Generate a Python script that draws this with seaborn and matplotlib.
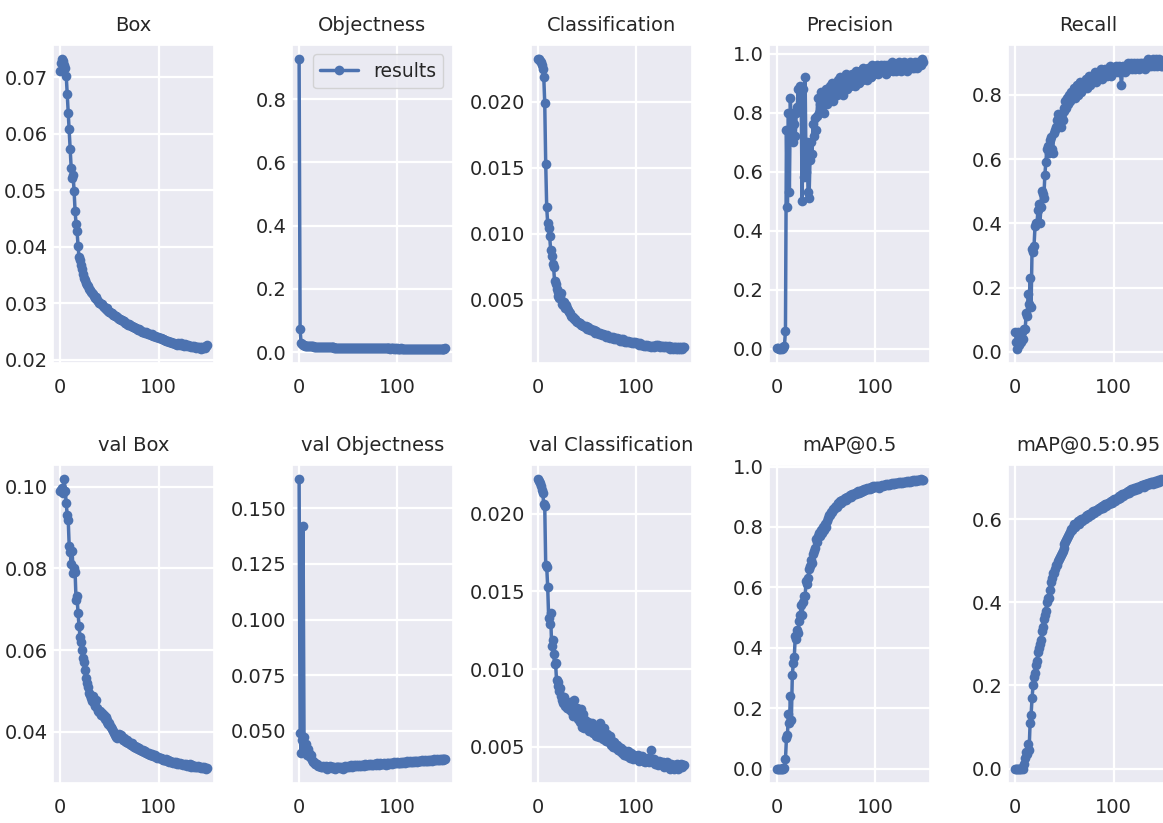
import matplotlib
matplotlib.use("Agg")
import matplotlib.pyplot as plt
from matplotlib.ticker import MultipleLocator
import seaborn as sns
import numpy as np

# epochs 0..149
epochs = list(range(150))

box = [
    0.0710, 0.0725, 0.0731, 0.0728, 0.0722, 0.0716, 0.0702, 0.0670, 0.0636, 0.0608,
    0.0572, 0.0540, 0.0522, 0.0526, 0.0498, 0.0463, 0.0440, 0.0428, 0.0402, 0.0381,
    0.0376, 0.0368, 0.0360, 0.0352, 0.0345, 0.0341, 0.0336, 0.0333, 0.0330, 0.0326,
    0.0324, 0.0320, 0.0318, 0.0316, 0.0312, 0.0309, 0.0311, 0.0306, 0.0304, 0.0301,
    0.0300, 0.0298, 0.0299, 0.0295, 0.0293, 0.0292, 0.0290, 0.0291, 0.0288, 0.0286,
    0.0285, 0.0284, 0.0282, 0.0283, 0.0280, 0.0279, 0.0277, 0.0278, 0.0276, 0.0274,
    0.0273, 0.0272, 0.0271, 0.0270, 0.0268, 0.0268, 0.0266, 0.0265, 0.0264, 0.0262,
    0.0263, 0.0261, 0.0260, 0.0259, 0.0258, 0.0258, 0.0256, 0.0257, 0.0255, 0.0253,
    0.0254, 0.0252, 0.0251, 0.0250, 0.0250, 0.0249, 0.0248, 0.0249, 0.0247, 0.0246,
    0.0246, 0.0245, 0.0244, 0.0245, 0.0243, 0.0242, 0.0243, 0.0241, 0.0240, 0.0240,
    0.0239, 0.0238, 0.0239, 0.0237, 0.0236, 0.0236, 0.0235, 0.0235, 0.0234, 0.0233,
    0.0233, 0.0232, 0.0232, 0.0231, 0.0230, 0.0229, 0.0230, 0.0228, 0.0228, 0.0227,
    0.0229, 0.0228, 0.0227, 0.0229, 0.0226, 0.0227, 0.0225, 0.0228, 0.0226, 0.0225,
    0.0226, 0.0224, 0.0225, 0.0223, 0.0224, 0.0222, 0.0224, 0.0223, 0.0221, 0.0222,
    0.0223, 0.0221, 0.0222, 0.0220, 0.0222, 0.0221, 0.0223, 0.0221, 0.0224, 0.0226,
]

objectness = [
    0.925, 0.072, 0.028, 0.024, 0.022, 0.021, 0.020, 0.020, 0.019, 0.019,
    0.019, 0.018, 0.018, 0.018, 0.018, 0.017, 0.017, 0.017, 0.017, 0.017,
    0.016, 0.016, 0.016, 0.016, 0.016, 0.016, 0.016, 0.015, 0.015, 0.015,
    0.015, 0.015, 0.015, 0.015, 0.015, 0.015, 0.014, 0.014, 0.014, 0.014,
    0.014, 0.014, 0.014, 0.014, 0.014, 0.014, 0.014, 0.014, 0.013, 0.014,
    0.013, 0.013, 0.013, 0.014, 0.013, 0.013, 0.013, 0.013, 0.013, 0.013,
    0.013, 0.013, 0.013, 0.013, 0.013, 0.012, 0.013, 0.013, 0.012, 0.013,
    0.012, 0.013, 0.012, 0.012, 0.012, 0.012, 0.012, 0.012, 0.012, 0.012,
    0.012, 0.012, 0.012, 0.012, 0.012, 0.012, 0.012, 0.012, 0.012, 0.012,
    0.012, 0.012, 0.012, 0.011, 0.012, 0.012, 0.012, 0.011, 0.012, 0.011,
    0.012, 0.011, 0.011, 0.011, 0.012, 0.011, 0.011, 0.011, 0.011, 0.011,
    0.011, 0.011, 0.011, 0.011, 0.011, 0.011, 0.011, 0.011, 0.011, 0.011,
    0.011, 0.011, 0.011, 0.011, 0.011, 0.011, 0.011, 0.011, 0.011, 0.011,
    0.011, 0.011, 0.011, 0.011, 0.011, 0.011, 0.011, 0.011, 0.011, 0.011,
    0.011, 0.011, 0.011, 0.011, 0.011, 0.011, 0.011, 0.011, 0.011, 0.012,
]

classification = [
    0.0232, 0.0232, 0.0231, 0.0230, 0.0228, 0.0225, 0.0219, 0.0199, 0.0153, 0.0120,
    0.0108, 0.0104, 0.0098, 0.0088, 0.0083, 0.0077, 0.0075, 0.0064, 0.0062, 0.0058,
    0.0056, 0.0053, 0.0051, 0.0052, 0.0055, 0.0047, 0.0046, 0.0048, 0.0044, 0.0046,
    0.0044, 0.0042, 0.0041, 0.0040, 0.0038, 0.0037, 0.0037, 0.0035, 0.0035, 0.0034,
    0.0033, 0.0033, 0.0032, 0.0032, 0.0031, 0.0031, 0.0030, 0.0030, 0.0029, 0.0030,
    0.0028, 0.0029, 0.0028, 0.0027, 0.0028, 0.0027, 0.0026, 0.0027, 0.0025, 0.0026,
    0.0025, 0.0025, 0.0024, 0.0025, 0.0024, 0.0023, 0.0024, 0.0023, 0.0023, 0.0022,
    0.0023, 0.0022, 0.0022, 0.0021, 0.0022, 0.0021, 0.0021, 0.0022, 0.0020, 0.0021,
    0.0020, 0.0021, 0.0020, 0.0020, 0.0019, 0.0020, 0.0019, 0.0020, 0.0019, 0.0018,
    0.0019, 0.0018, 0.0019, 0.0018, 0.0018, 0.0018, 0.0017, 0.0018, 0.0017, 0.0018,
    0.0017, 0.0017, 0.0017, 0.0016, 0.0017, 0.0016, 0.0016, 0.0016, 0.0015, 0.0016,
    0.0015, 0.0016, 0.0015, 0.0015, 0.0015, 0.0014, 0.0015, 0.0015, 0.0014, 0.0015,
    0.0016, 0.0015, 0.0016, 0.0015, 0.0014, 0.0015, 0.0015, 0.0014, 0.0015, 0.0014,
    0.0015, 0.0014, 0.0014, 0.0015, 0.0014, 0.0013, 0.0014, 0.0014, 0.0013, 0.0014,
    0.0014, 0.0013, 0.0014, 0.0013, 0.0014, 0.0013, 0.0014, 0.0013, 0.0014, 0.0014,
]

precision = [
    0.002, 0.001, 0.000, 0.000, 0.001, 0.000, 0.002, 0.004, 0.010, 0.060,
    0.740, 0.480, 0.800, 0.530, 0.850, 0.720, 0.800, 0.700, 0.760, 0.720,
    0.800, 0.820, 0.880, 0.810, 0.890, 0.850, 0.500, 0.880, 0.580, 0.920,
    0.600, 0.700, 0.530, 0.510, 0.640, 0.700, 0.660, 0.760, 0.720, 0.780,
    0.740, 0.790, 0.850, 0.800, 0.830, 0.870, 0.820, 0.850, 0.800, 0.860,
    0.880, 0.830, 0.870, 0.850, 0.890, 0.860, 0.900, 0.840, 0.880, 0.870,
    0.900, 0.860, 0.910, 0.880, 0.870, 0.920, 0.880, 0.900, 0.860, 0.910,
    0.890, 0.930, 0.880, 0.900, 0.920, 0.890, 0.910, 0.930, 0.900, 0.920,
    0.890, 0.940, 0.910, 0.930, 0.900, 0.940, 0.920, 0.910, 0.950, 0.920,
    0.940, 0.930, 0.910, 0.950, 0.930, 0.940, 0.920, 0.960, 0.940, 0.930,
    0.950, 0.940, 0.960, 0.930, 0.950, 0.940, 0.960, 0.950, 0.940, 0.960,
    0.950, 0.930, 0.960, 0.950, 0.940, 0.960, 0.950, 0.970, 0.940, 0.950,
    0.960, 0.950, 0.940, 0.960, 0.950, 0.970, 0.960, 0.940, 0.950, 0.960,
    0.970, 0.960, 0.950, 0.940, 0.960, 0.950, 0.970, 0.960, 0.950, 0.960,
    0.950, 0.970, 0.960, 0.950, 0.970, 0.960, 0.970, 0.960, 0.980, 0.970,
]

recall = [
    0.060, 0.030, 0.010, 0.060, 0.020, 0.050, 0.030, 0.060, 0.040, 0.070,
    0.070, 0.120, 0.110, 0.180, 0.150, 0.230, 0.140, 0.320, 0.310, 0.330,
    0.390, 0.400, 0.400, 0.440, 0.460, 0.400, 0.450, 0.500, 0.490, 0.480,
    0.550, 0.590, 0.630, 0.640, 0.620, 0.660, 0.670, 0.630, 0.620, 0.680,
    0.690, 0.700, 0.720, 0.740, 0.710, 0.730, 0.700, 0.740, 0.720, 0.760,
    0.750, 0.780, 0.760, 0.790, 0.770, 0.800, 0.780, 0.810, 0.790, 0.800,
    0.820, 0.790, 0.810, 0.830, 0.800, 0.820, 0.840, 0.810, 0.830, 0.820,
    0.840, 0.830, 0.850, 0.820, 0.840, 0.860, 0.830, 0.850, 0.840, 0.860,
    0.850, 0.870, 0.840, 0.860, 0.850, 0.870, 0.860, 0.880, 0.850, 0.870,
    0.860, 0.880, 0.870, 0.860, 0.880, 0.870, 0.890, 0.860, 0.880, 0.870,
    0.880, 0.870, 0.890, 0.880, 0.870, 0.880, 0.890, 0.870, 0.830, 0.880,
    0.890, 0.880, 0.870, 0.890, 0.880, 0.900, 0.880, 0.890, 0.900, 0.880,
    0.890, 0.900, 0.880, 0.890, 0.900, 0.890, 0.880, 0.900, 0.890, 0.900,
    0.890, 0.900, 0.880, 0.900, 0.890, 0.910, 0.890, 0.900, 0.890, 0.900,
    0.910, 0.890, 0.900, 0.910, 0.890, 0.900, 0.910, 0.900, 0.890, 0.890,
]

val_box = [
    0.0990, 0.0992, 0.0998, 0.0985, 0.1018, 0.0990, 0.0960, 0.0930, 0.0920, 0.0855,
    0.0840, 0.0810, 0.0842, 0.0790, 0.0800, 0.0792, 0.0722, 0.0732, 0.0690, 0.0660,
    0.0632, 0.0620, 0.0600, 0.0582, 0.0570, 0.0552, 0.0532, 0.0520, 0.0510, 0.0495,
    0.0490, 0.0482, 0.0475, 0.0488, 0.0470, 0.0462, 0.0478, 0.0458, 0.0452, 0.0448,
    0.0450, 0.0442, 0.0445, 0.0438, 0.0440, 0.0432, 0.0436, 0.0428, 0.0425, 0.0420,
    0.0422, 0.0415, 0.0412, 0.0408, 0.0402, 0.0398, 0.0392, 0.0388, 0.0385, 0.0390,
    0.0395, 0.0388, 0.0392, 0.0385, 0.0380, 0.0386, 0.0378, 0.0375, 0.0380, 0.0372,
    0.0374, 0.0370, 0.0368, 0.0372, 0.0365, 0.0362, 0.0366, 0.0360, 0.0362, 0.0358,
    0.0360, 0.0356, 0.0355, 0.0352, 0.0355, 0.0350, 0.0352, 0.0348, 0.0347, 0.0345,
    0.0348, 0.0344, 0.0342, 0.0345, 0.0341, 0.0340, 0.0342, 0.0338, 0.0337, 0.0339,
    0.0336, 0.0335, 0.0337, 0.0333, 0.0334, 0.0331, 0.0332, 0.0330, 0.0333, 0.0328,
    0.0330, 0.0327, 0.0328, 0.0326, 0.0327, 0.0324, 0.0325, 0.0323, 0.0325, 0.0322,
    0.0324, 0.0321, 0.0323, 0.0320, 0.0322, 0.0319, 0.0321, 0.0318, 0.0320, 0.0317,
    0.0319, 0.0316, 0.0320, 0.0315, 0.0318, 0.0316, 0.0314, 0.0317, 0.0315, 0.0313,
    0.0316, 0.0313, 0.0315, 0.0312, 0.0314, 0.0311, 0.0313, 0.0312, 0.0310, 0.0312,
]

val_objectness = [
    0.163, 0.049, 0.040, 0.046, 0.142, 0.047, 0.041, 0.044, 0.039, 0.042,
    0.040, 0.038, 0.039, 0.037, 0.036, 0.036, 0.035, 0.035, 0.035, 0.034,
    0.0340, 0.0342, 0.0338, 0.0335, 0.0340, 0.0335, 0.0336, 0.0340, 0.0330, 0.0335,
    0.0336, 0.0340, 0.0335, 0.0331, 0.0335, 0.0339, 0.0334, 0.0330, 0.0336, 0.0338,
    0.0335, 0.0338, 0.0332, 0.0336, 0.0334, 0.0330, 0.0336, 0.0340, 0.0335, 0.0338,
    0.0342, 0.0336, 0.0340, 0.0344, 0.0338, 0.0342, 0.0346, 0.0340, 0.0344, 0.0342,
    0.0345, 0.0340, 0.0347, 0.0343, 0.0348, 0.0345, 0.0342, 0.0349, 0.0346, 0.0344,
    0.0348, 0.0352, 0.0346, 0.0350, 0.0348, 0.0345, 0.0352, 0.0349, 0.0347, 0.0353,
    0.0350, 0.0348, 0.0354, 0.0350, 0.0352, 0.0349, 0.0355, 0.0351, 0.0348, 0.0354,
    0.0352, 0.0356, 0.0350, 0.0354, 0.0357, 0.0352, 0.0355, 0.0358, 0.0353, 0.0356,
    0.0359, 0.0354, 0.0357, 0.0355, 0.0360, 0.0356, 0.0358, 0.0361, 0.0357, 0.0359,
    0.0362, 0.0358, 0.0360, 0.0363, 0.0359, 0.0361, 0.0364, 0.0360, 0.0362, 0.0365,
    0.0361, 0.0363, 0.0366, 0.0362, 0.0364, 0.0367, 0.0363, 0.0365, 0.0368, 0.0364,
    0.0366, 0.0369, 0.0365, 0.0367, 0.0370, 0.0366, 0.0368, 0.0371, 0.0367, 0.0369,
    0.0372, 0.0368, 0.0370, 0.0373, 0.0369, 0.0371, 0.0374, 0.0370, 0.0372, 0.0373,
]

val_classification = [
    0.0222, 0.0221, 0.0220, 0.0218, 0.0215, 0.0213, 0.0206, 0.0205, 0.0167, 0.0166,
    0.0153, 0.0133, 0.0129, 0.0136, 0.0115, 0.0119, 0.0110, 0.0103, 0.0104, 0.0093,
    0.0092, 0.0089, 0.0086, 0.0088, 0.0083, 0.0080, 0.0078, 0.0082, 0.0076, 0.0079,
    0.0075, 0.0077, 0.0074, 0.0079, 0.0073, 0.0076, 0.0070, 0.0080, 0.0074, 0.0072,
    0.0075, 0.0068, 0.0073, 0.0066, 0.0074, 0.0063, 0.0071, 0.0062, 0.0067, 0.0064,
    0.0063, 0.0066, 0.0060, 0.0064, 0.0061, 0.0065, 0.0059, 0.0062, 0.0060, 0.0057,
    0.0063, 0.0058, 0.0056, 0.0065, 0.0057, 0.0060, 0.0055, 0.0062, 0.0056, 0.0054,
    0.0058, 0.0055, 0.0053, 0.0057, 0.0051, 0.0054, 0.0052, 0.0050, 0.0053, 0.0050,
    0.0049, 0.0051, 0.0048, 0.0050, 0.0047, 0.0049, 0.0046, 0.0048, 0.0045, 0.0047,
    0.0046, 0.0044, 0.0047, 0.0045, 0.0043, 0.0046, 0.0044, 0.0042, 0.0045, 0.0043,
    0.0044, 0.0042, 0.0045, 0.0041, 0.0043, 0.0042, 0.0044, 0.0041, 0.0043, 0.0040,
    0.0042, 0.0041, 0.0043, 0.0040, 0.0042, 0.0048, 0.0041, 0.0040, 0.0042, 0.0039,
    0.0041, 0.0040, 0.0038, 0.0041, 0.0039, 0.0040, 0.0038, 0.0040, 0.0037, 0.0039,
    0.0038, 0.0040, 0.0037, 0.0039, 0.0038, 0.0036, 0.0039, 0.0037, 0.0038, 0.0036,
    0.0038, 0.0037, 0.0039, 0.0036, 0.0038, 0.0037, 0.0039, 0.0037, 0.0038, 0.0038,
]

map50 = [
    0.000, 0.000, 0.000, 0.000, 0.000, 0.000, 0.001, 0.000, 0.002, 0.030,
    0.100, 0.110, 0.180, 0.150, 0.240, 0.160, 0.310, 0.350, 0.370, 0.440,
    0.430, 0.460, 0.450, 0.490, 0.510, 0.540, 0.510, 0.550, 0.570, 0.570,
    0.620, 0.610, 0.630, 0.660, 0.670, 0.690, 0.680, 0.710, 0.720, 0.730,
    0.760, 0.750, 0.770, 0.780, 0.770, 0.790, 0.780, 0.800, 0.790, 0.810,
    0.800, 0.820, 0.830, 0.840, 0.840, 0.850, 0.850, 0.860, 0.860, 0.865,
    0.870, 0.865, 0.875, 0.880, 0.875, 0.885, 0.880, 0.890, 0.885, 0.890,
    0.895, 0.890, 0.900, 0.895, 0.900, 0.905, 0.900, 0.910, 0.905, 0.910,
    0.912, 0.908, 0.915, 0.918, 0.912, 0.920, 0.916, 0.922, 0.918, 0.925,
    0.922, 0.926, 0.928, 0.924, 0.930, 0.927, 0.932, 0.929, 0.934, 0.931,
    0.935, 0.932, 0.936, 0.934, 0.930, 0.937, 0.935, 0.938, 0.936, 0.940,
    0.938, 0.941, 0.939, 0.942, 0.940, 0.943, 0.941, 0.944, 0.942, 0.945,
    0.943, 0.946, 0.944, 0.947, 0.945, 0.948, 0.946, 0.949, 0.947, 0.950,
    0.948, 0.950, 0.949, 0.951, 0.950, 0.952, 0.950, 0.953, 0.951, 0.954,
    0.952, 0.954, 0.953, 0.955, 0.954, 0.956, 0.954, 0.957, 0.955, 0.956,
]

map50_95 = [
    0.000, 0.000, 0.000, 0.000, 0.000, 0.000, 0.000, 0.001, 0.000, 0.010,
    0.025, 0.040, 0.035, 0.060, 0.045, 0.110, 0.130, 0.170, 0.200, 0.220,
    0.230, 0.250, 0.260, 0.280, 0.290, 0.300, 0.310, 0.330, 0.340, 0.360,
    0.370, 0.380, 0.400, 0.410, 0.410, 0.430, 0.450, 0.460, 0.470, 0.470,
    0.480, 0.490, 0.490, 0.500, 0.505, 0.510, 0.515, 0.520, 0.525, 0.530,
    0.540, 0.545, 0.550, 0.555, 0.560, 0.565, 0.570, 0.578, 0.574, 0.582,
    0.588, 0.582, 0.590, 0.592, 0.595, 0.590, 0.598, 0.600, 0.596, 0.602,
    0.604, 0.600, 0.607, 0.610, 0.606, 0.612, 0.614, 0.610, 0.617, 0.619,
    0.615, 0.621, 0.623, 0.620, 0.626, 0.628, 0.624, 0.630, 0.632, 0.628,
    0.634, 0.636, 0.632, 0.638, 0.640, 0.636, 0.642, 0.644, 0.640, 0.646,
    0.648, 0.644, 0.650, 0.652, 0.648, 0.654, 0.656, 0.652, 0.658, 0.660,
    0.656, 0.662, 0.664, 0.660, 0.666, 0.668, 0.664, 0.670, 0.672, 0.668,
    0.673, 0.675, 0.671, 0.676, 0.678, 0.674, 0.679, 0.681, 0.677, 0.682,
    0.683, 0.679, 0.684, 0.686, 0.682, 0.687, 0.688, 0.684, 0.689, 0.690,
    0.686, 0.691, 0.692, 0.688, 0.693, 0.694, 0.690, 0.695, 0.696, 0.695,
]

titles = ["Box", "Objectness", "Classification", "Precision", "Recall",
          "val Box", "val Objectness", "val Classification", "mAP@0.5", "mAP@0.5:0.95"]
series = [box, objectness, classification, precision, recall,
          val_box, val_objectness, val_classification, map50, map50_95]
y_steps = [0.01, 0.2, 0.005, 0.2, 0.2, 0.02, 0.025, 0.005, 0.2, 0.2]

sns.set_theme(style="darkgrid")
plt.rcParams["font.family"] = ["DejaVu Sans"]

fig, axes = plt.subplots(2, 5, figsize=(11.63, 8.23), dpi=100)
# the reference is a crop: the last column runs past the right edge
fig.subplots_adjust(left=0.0456, right=1.0052, top=0.9453, bottom=0.0486,
                    wspace=0.483, hspace=0.321)

color = sns.color_palette("deep")[0]
for i, ax in enumerate(axes.flat):
    sns.lineplot(x=epochs, y=series[i], ax=ax, color=color, marker="o",
                 markersize=7, markeredgewidth=0, linewidth=2.5,
                 label="results" if i == 1 else None, legend=(i == 1))
    ax.set_title(titles[i], fontsize=14, pad=10)
    ax.set_xticks([0, 100])
    ax.yaxis.set_major_locator(MultipleLocator(y_steps[i]))
    ax.tick_params(axis="both", length=0)
    ax.tick_params(axis="x", labelsize=14, pad=11)
    ax.tick_params(axis="y", labelsize=14, pad=4)
    ax.grid(color="white", linewidth=1.6)
    ax.set_xlabel("")
    ax.set_ylabel("")

axes[0, 1].legend(loc="upper right", fontsize=13.5)

fig.savefig("out.png", dpi=100)
